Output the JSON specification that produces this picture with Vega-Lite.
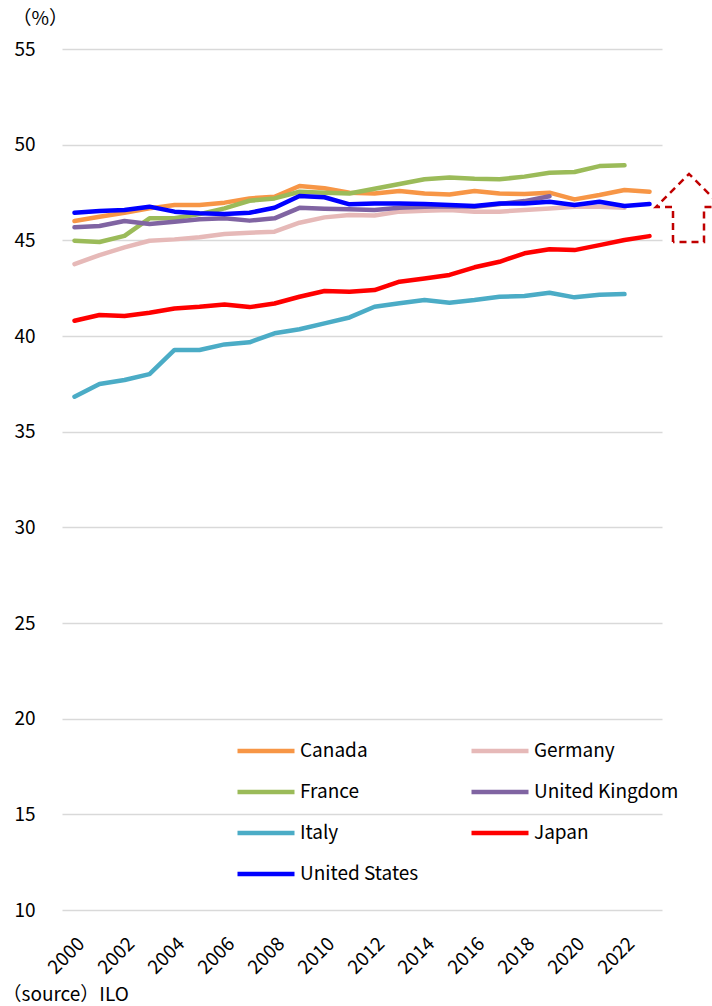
{
  "$schema": "https://vega.github.io/schema/vega-lite/v6.json",
  "width": 600,
  "height": 861,
  "autosize": {"type": "none"},
  "padding": {"left": 62, "top": 49, "right": 50, "bottom": 96},
  "background": "white",
  "config": {
    "view": {"stroke": null},
    "font": "Noto Sans CJK JP",
    "axis": {"labelColor": "#000000", "titleColor": "#000000", "labelFont": "Noto Sans CJK JP", "titleFont": "Noto Sans CJK JP"},
    "legend": {"labelFont": "Noto Sans CJK JP"}
  },
  "datasets": {
    "series": [
      {"country":"Canada","year":2000,"value":46.01},{"country":"Canada","year":2001,"value":46.23},{"country":"Canada","year":2002,"value":46.44},{"country":"Canada","year":2003,"value":46.67},{"country":"Canada","year":2004,"value":46.85},{"country":"Canada","year":2005,"value":46.85},{"country":"Canada","year":2006,"value":46.97},{"country":"Canada","year":2007,"value":47.19},{"country":"Canada","year":2008,"value":47.28},{"country":"Canada","year":2009,"value":47.84},{"country":"Canada","year":2010,"value":47.72},{"country":"Canada","year":2011,"value":47.49},{"country":"Canada","year":2012,"value":47.45},{"country":"Canada","year":2013,"value":47.58},{"country":"Canada","year":2014,"value":47.45},{"country":"Canada","year":2015,"value":47.40},{"country":"Canada","year":2016,"value":47.58},{"country":"Canada","year":2017,"value":47.45},{"country":"Canada","year":2018,"value":47.42},{"country":"Canada","year":2019,"value":47.49},{"country":"Canada","year":2020,"value":47.14},{"country":"Canada","year":2021,"value":47.37},{"country":"Canada","year":2022,"value":47.63},{"country":"Canada","year":2023,"value":47.54},
      {"country":"Germany","year":2000,"value":43.76},{"country":"Germany","year":2001,"value":44.23},{"country":"Germany","year":2002,"value":44.63},{"country":"Germany","year":2003,"value":44.98},{"country":"Germany","year":2004,"value":45.05},{"country":"Germany","year":2005,"value":45.16},{"country":"Germany","year":2006,"value":45.33},{"country":"Germany","year":2007,"value":45.40},{"country":"Germany","year":2008,"value":45.45},{"country":"Germany","year":2009,"value":45.92},{"country":"Germany","year":2010,"value":46.20},{"country":"Germany","year":2011,"value":46.32},{"country":"Germany","year":2012,"value":46.30},{"country":"Germany","year":2013,"value":46.50},{"country":"Germany","year":2014,"value":46.55},{"country":"Germany","year":2015,"value":46.58},{"country":"Germany","year":2016,"value":46.50},{"country":"Germany","year":2017,"value":46.50},{"country":"Germany","year":2018,"value":46.58},{"country":"Germany","year":2019,"value":46.67},{"country":"Germany","year":2020,"value":46.76},{"country":"Germany","year":2021,"value":46.76},{"country":"Germany","year":2022,"value":46.70},
      {"country":"France","year":2000,"value":44.98},{"country":"France","year":2001,"value":44.91},{"country":"France","year":2002,"value":45.23},{"country":"France","year":2003,"value":46.15},{"country":"France","year":2004,"value":46.15},{"country":"France","year":2005,"value":46.37},{"country":"France","year":2006,"value":46.67},{"country":"France","year":2007,"value":47.07},{"country":"France","year":2008,"value":47.19},{"country":"France","year":2009,"value":47.54},{"country":"France","year":2010,"value":47.49},{"country":"France","year":2011,"value":47.45},{"country":"France","year":2012,"value":47.70},{"country":"France","year":2013,"value":47.94},{"country":"France","year":2014,"value":48.19},{"country":"France","year":2015,"value":48.29},{"country":"France","year":2016,"value":48.22},{"country":"France","year":2017,"value":48.19},{"country":"France","year":2018,"value":48.33},{"country":"France","year":2019,"value":48.53},{"country":"France","year":2020,"value":48.57},{"country":"France","year":2021,"value":48.88},{"country":"France","year":2022,"value":48.92},
      {"country":"United Kingdom","year":2000,"value":45.68},{"country":"United Kingdom","year":2001,"value":45.75},{"country":"United Kingdom","year":2002,"value":46.01},{"country":"United Kingdom","year":2003,"value":45.85},{"country":"United Kingdom","year":2004,"value":45.97},{"country":"United Kingdom","year":2005,"value":46.10},{"country":"United Kingdom","year":2006,"value":46.15},{"country":"United Kingdom","year":2007,"value":46.03},{"country":"United Kingdom","year":2008,"value":46.15},{"country":"United Kingdom","year":2009,"value":46.70},{"country":"United Kingdom","year":2010,"value":46.65},{"country":"United Kingdom","year":2011,"value":46.62},{"country":"United Kingdom","year":2012,"value":46.58},{"country":"United Kingdom","year":2013,"value":46.70},{"country":"United Kingdom","year":2014,"value":46.75},{"country":"United Kingdom","year":2015,"value":46.78},{"country":"United Kingdom","year":2016,"value":46.75},{"country":"United Kingdom","year":2017,"value":46.90},{"country":"United Kingdom","year":2018,"value":47.05},{"country":"United Kingdom","year":2019,"value":47.30},
      {"country":"Italy","year":2000,"value":36.83},{"country":"Italy","year":2001,"value":37.49},{"country":"Italy","year":2002,"value":37.70},{"country":"Italy","year":2003,"value":38.01},{"country":"Italy","year":2004,"value":39.27},{"country":"Italy","year":2005,"value":39.27},{"country":"Italy","year":2006,"value":39.56},{"country":"Italy","year":2007,"value":39.67},{"country":"Italy","year":2008,"value":40.14},{"country":"Italy","year":2009,"value":40.35},{"country":"Italy","year":2010,"value":40.66},{"country":"Italy","year":2011,"value":40.97},{"country":"Italy","year":2012,"value":41.53},{"country":"Italy","year":2013,"value":41.71},{"country":"Italy","year":2014,"value":41.88},{"country":"Italy","year":2015,"value":41.74},{"country":"Italy","year":2016,"value":41.88},{"country":"Italy","year":2017,"value":42.05},{"country":"Italy","year":2018,"value":42.09},{"country":"Italy","year":2019,"value":42.26},{"country":"Italy","year":2020,"value":42.02},{"country":"Italy","year":2021,"value":42.16},{"country":"Italy","year":2022,"value":42.19},
      {"country":"Japan","year":2000,"value":40.80},{"country":"Japan","year":2001,"value":41.10},{"country":"Japan","year":2002,"value":41.04},{"country":"Japan","year":2003,"value":41.22},{"country":"Japan","year":2004,"value":41.44},{"country":"Japan","year":2005,"value":41.53},{"country":"Japan","year":2006,"value":41.65},{"country":"Japan","year":2007,"value":41.51},{"country":"Japan","year":2008,"value":41.70},{"country":"Japan","year":2009,"value":42.05},{"country":"Japan","year":2010,"value":42.35},{"country":"Japan","year":2011,"value":42.31},{"country":"Japan","year":2012,"value":42.40},{"country":"Japan","year":2013,"value":42.84},{"country":"Japan","year":2014,"value":43.01},{"country":"Japan","year":2015,"value":43.19},{"country":"Japan","year":2016,"value":43.59},{"country":"Japan","year":2017,"value":43.88},{"country":"Japan","year":2018,"value":44.32},{"country":"Japan","year":2019,"value":44.53},{"country":"Japan","year":2020,"value":44.49},{"country":"Japan","year":2021,"value":44.75},{"country":"Japan","year":2022,"value":45.02},{"country":"Japan","year":2023,"value":45.22},
      {"country":"United States","year":2000,"value":46.44},{"country":"United States","year":2001,"value":46.53},{"country":"United States","year":2002,"value":46.58},{"country":"United States","year":2003,"value":46.76},{"country":"United States","year":2004,"value":46.50},{"country":"United States","year":2005,"value":46.41},{"country":"United States","year":2006,"value":46.37},{"country":"United States","year":2007,"value":46.44},{"country":"United States","year":2008,"value":46.70},{"country":"United States","year":2009,"value":47.32},{"country":"United States","year":2010,"value":47.25},{"country":"United States","year":2011,"value":46.88},{"country":"United States","year":2012,"value":46.93},{"country":"United States","year":2013,"value":46.93},{"country":"United States","year":2014,"value":46.90},{"country":"United States","year":2015,"value":46.85},{"country":"United States","year":2016,"value":46.79},{"country":"United States","year":2017,"value":46.93},{"country":"United States","year":2018,"value":46.93},{"country":"United States","year":2019,"value":47.02},{"country":"United States","year":2020,"value":46.85},{"country":"United States","year":2021,"value":47.02},{"country":"United States","year":2022,"value":46.79},{"country":"United States","year":2023,"value":46.90}
    ],
    "arrow": [
      {"ord":0,"x":2023.94,"y":44.91},
      {"ord":1,"x":2023.94,"y":46.74},
      {"ord":2,"x":2023.26,"y":46.74},
      {"ord":3,"x":2024.58,"y":48.47},
      {"ord":4,"x":2025.9,"y":46.74},
      {"ord":5,"x":2025.18,"y":46.74},
      {"ord":6,"x":2025.18,"y":44.91},
      {"ord":7,"x":2023.94,"y":44.91}
    ]
  },
  "layer": [
    {
      "data": {"name": "series"},
      "mark": {"type": "line", "strokeCap": "round", "strokeJoin": "round", "clip": false},
      "encoding": {
        "x": {
          "field": "year", "type": "quantitative",
          "scale": {"domain": [1999.5, 2023.5], "nice": false, "zero": false},
          "axis": {
            "values": [2000,2002,2004,2006,2008,2010,2012,2014,2016,2018,2020,2022],
            "format": "d", "labelAngle": -45, "labelFontSize": 19, "grid": false,
            "domain": false, "ticks": false, "labelPadding": 24,
            "title": "（source）ILO", "titleFontSize": 19, "titleFontWeight": "normal",
            "titleX": -60, "titleY": 84, "titleAlign": "left", "titleBaseline": "middle", "titleAnchor": null
          }
        },
        "y": {
          "field": "value", "type": "quantitative",
          "scale": {"domain": [10, 55], "nice": false, "zero": false},
          "axis": {
            "values": [10,15,20,25,30,35,40,45,50,55],
            "labelFontSize": 19, "grid": true, "gridColor": "#d9d9d9", "gridWidth": 1.5,
            "domain": false, "ticks": false, "labelPadding": 27,
            "title": "（%）", "titleAngle": 0, "titleFontSize": 19, "titleFontWeight": "normal",
            "titleX": -50, "titleY": -31, "titleAlign": "left", "titleBaseline": "middle"
          }
        },
        "color": {
          "field": "country", "type": "nominal",
          "scale": {
            "domain": ["Canada","Germany","France","United Kingdom","Italy","Japan","United States"],
            "range": ["#F79646","#E6B9B8","#9BBB59","#8064A2","#4BACC6","#FF0000","#0000FF"]
          },
          "legend": {
            "orient": "none", "legendX": 173, "legendY": 671, "columns": 2, "direction": "horizontal",
            "title": null, "symbolType": "stroke", "symbolSize": 3249, "symbolStrokeWidth": 6,
            "labelFontSize": 19, "labelColor": "#000000", "labelOffset": 3,
            "columnPadding": 43, "rowPadding": -16, "labelLimit": 300
          }
        },
        "strokeWidth": {
          "field": "country", "type": "nominal",
          "scale": {
            "domain": ["Canada","Germany","France","United Kingdom","Italy","Japan","United States"],
            "range": [4.5, 4.5, 4.5, 4.5, 4.5, 6.5, 5.5]
          },
          "legend": null
        }
      }
    },
    {
      "data": {"name": "arrow"},
      "mark": {"type": "line", "color": "#C00000", "strokeWidth": 2.5, "strokeDash": [7, 5], "clip": false},
      "encoding": {
        "x": {"field": "x", "type": "quantitative"},
        "y": {"field": "y", "type": "quantitative"},
        "order": {"field": "ord", "type": "quantitative"}
      }
    }
  ]
}
